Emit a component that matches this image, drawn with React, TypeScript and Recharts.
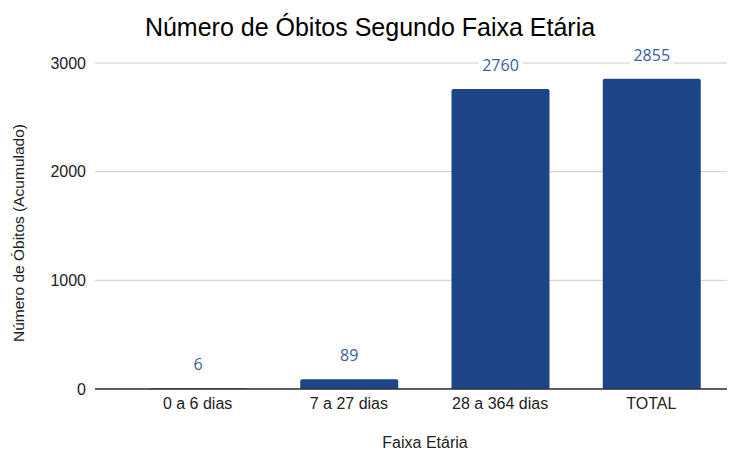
import React from 'react';
import { BarChart, Bar, XAxis, YAxis, CartesianGrid, LabelList, Label } from 'recharts';

const categories = ['0 a 6 dias', '7 a 27 dias', '28 a 364 dias', 'TOTAL'];
const obitos = [6, 89, 2760, 2855];
const yTicks = [0, 1000, 2000, 3000];

const data = categories.map((c, i) => ({ faixa: c, obitos: obitos[i] }));

const FONT = '"Liberation Sans", Arial, sans-serif';

const BarLabel = (props: any) => {
  const { x, y, width, value } = props;
  const cx = x + width / 2;
  const cy = y - 24;
  const txt = String(value);
  const w = txt.length * 9.5 + 6;
  return (
    <g>
      <rect x={cx - w / 2} y={cy - 9} width={w} height={18} fill="#ffffff" />
      <text x={cx} y={cy} textAnchor="middle" dominantBaseline="central" fill="#3d5d9f"
        fontFamily='"Open Sans", sans-serif' fontSize={16}>{txt}</text>
    </g>
  );
};

export default function App() {
  return (
    <div style={{ position: 'absolute', left: 0, top: 0, width: 740, height: 451, background: '#fff' }}>
      <div style={{ position: 'absolute', left: 0, top: 11, width: 740, textAlign: 'center',
        fontFamily: FONT, fontSize: 25, color: '#000', lineHeight: '32px' }}>
        Número de Óbitos Segundo Faixa Etária
      </div>
      <BarChart width={740} height={451} data={data}
        margin={{ top: 63, right: 13, bottom: 0, left: 0 }} barCategoryGap={0}>
        <CartesianGrid vertical={false} stroke="#cccccc" />
        <XAxis dataKey="faixa" height={62} padding={{ left: 27, right: 0 }}
          tickLine={false} tickSize={0} tickMargin={9}
          axisLine={{ stroke: '#333333', strokeWidth: 1.5 }}
          tick={{ fill: '#222222', fontSize: 16, fontFamily: FONT }}>
          <Label content={() => (
            <text x={425} y={448} textAnchor="middle" fill="#222222" fontSize={16} fontFamily={FONT}>
              Faixa Etária
            </text>
          )} />
        </XAxis>
        <YAxis width={95} domain={[0, 3000]} ticks={yTicks} axisLine={false} tickLine={false}
          tickSize={0} tickMargin={9}
          tick={{ fill: '#222222', fontSize: 16, fontFamily: FONT }}>
          <Label content={() => (
            <text x={24} y={233} textAnchor="middle" transform="rotate(-90 24 233)"
              fill="#222222" fontSize={15.5} fontFamily={FONT}>
              Número de Óbitos (Acumulado)
            </text>
          )} />
        </YAxis>
        <Bar dataKey="obitos" fill="#1c4587" barSize={98} radius={[2, 2, 0, 0]} isAnimationActive={false}>
          <LabelList dataKey="obitos" content={BarLabel} />
        </Bar>
      </BarChart>
    </div>
  );
}
